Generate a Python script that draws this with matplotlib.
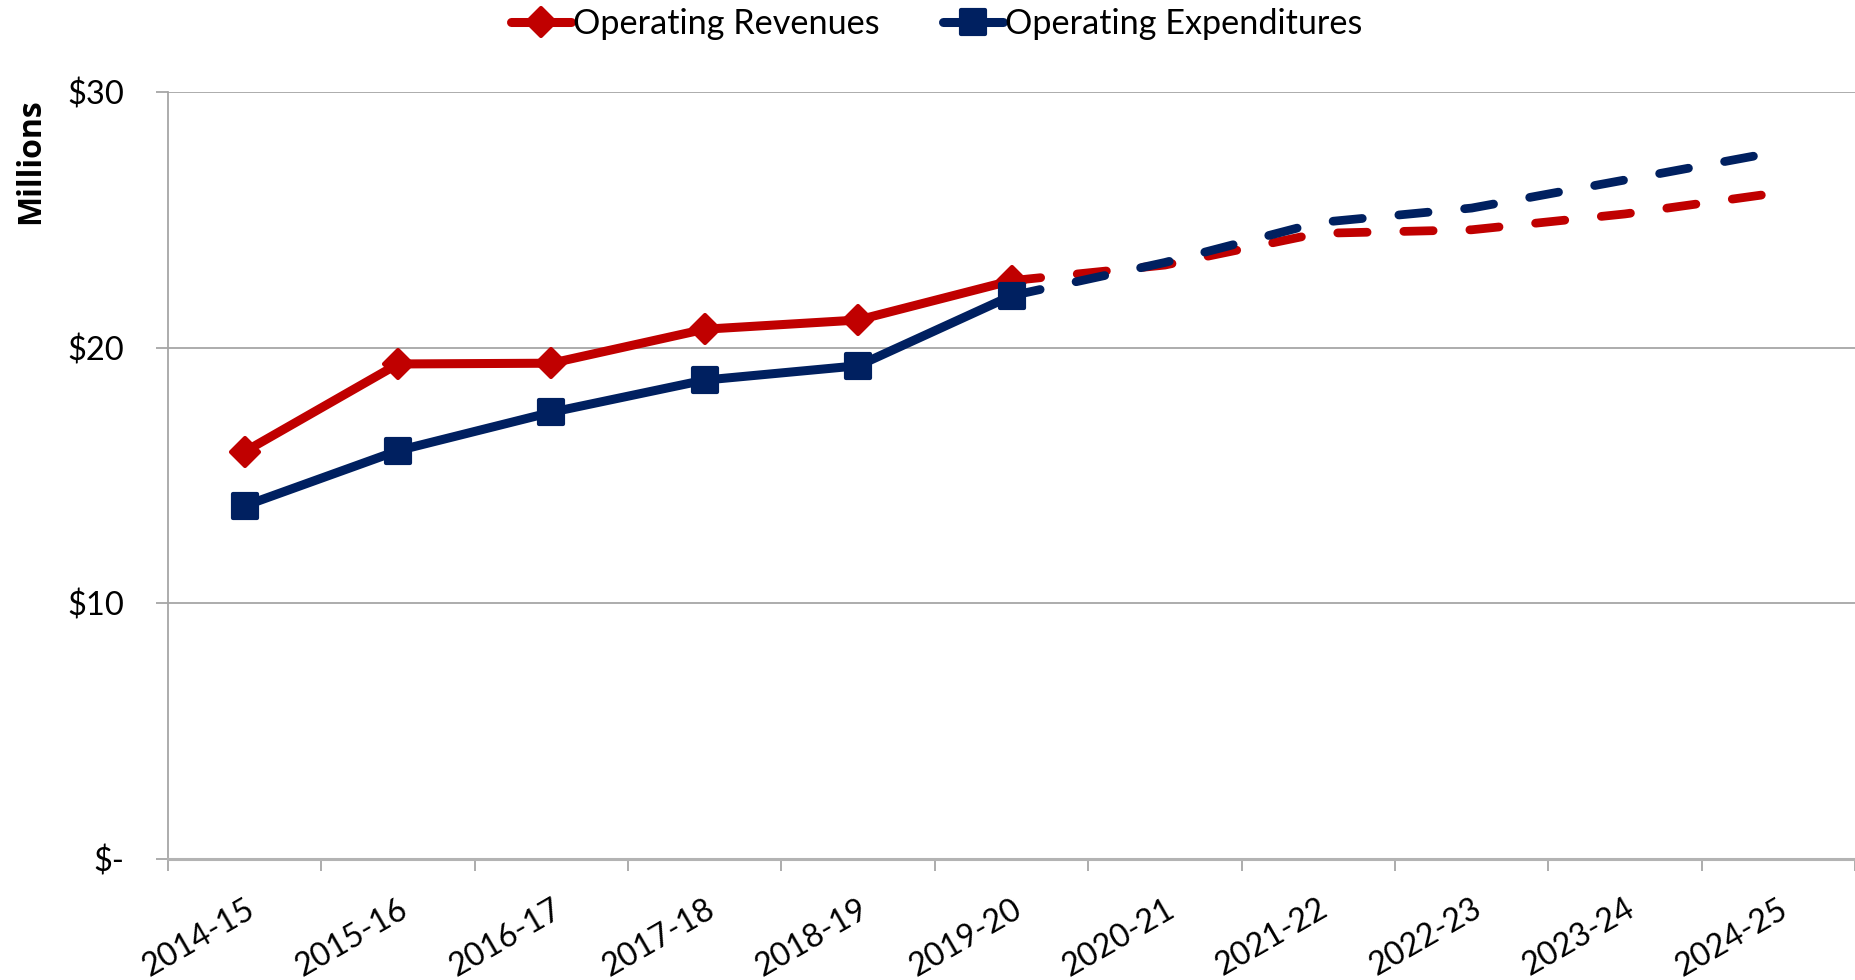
import matplotlib
matplotlib.use('Agg')
import matplotlib.pyplot as plt
from matplotlib.markers import MarkerStyle
import numpy as np

plt.rcParams['font.family'] = ['Lato', 'DejaVu Sans']

# data ($ millions)
years = ['2014-15', '2015-16', '2016-17', '2017-18', '2018-19', '2019-20',
         '2020-21', '2021-22', '2022-23', '2023-24', '2024-25']
revenues = [15.94, 19.37, 19.40, 20.73, 21.09, 22.63]
expenditures = [13.82, 15.98, 17.48, 18.74, 19.30, 22.04]
# projections start at 2019-20
revenues_proj = [22.63, 23.24, 24.48, 24.62, 25.24, 26.07]
expenditures_proj = [22.04, 23.34, 24.90, 25.47, 26.57, 27.68]
y_ticks = [0, 10, 20, 30]
y_labels = ['$-', '$10', '$20', '$30']

red = '#C00000'
navy = '#002060'
grey = '#a6a6a6'
W, H = 1855, 980

x = np.arange(len(years))
x_act = x[:len(revenues)]
x_proj = x[len(revenues) - 1:]

fig = plt.figure(figsize=(W / 100, H / 100), dpi=100)
ax = fig.add_axes([168 / W, 1 - 859 / H, 1 - 168 / W, (859 - 92.3) / H])

dash = (0, (3.35, 4.2))
ax.plot(x_proj, revenues_proj, color=red, lw=6.3, ls=dash,
        dash_capstyle='round', zorder=2)
l_rev, = ax.plot(x_act, revenues, color=red, lw=6.5,
                 marker=MarkerStyle('D', joinstyle='round'), ms=14.5, mew=3,
                 mec=red, mfc=red, solid_joinstyle='round',
                 solid_capstyle='round', zorder=3, label='Operating Revenues')
ax.plot(x_proj, expenditures_proj, color=navy, lw=6.3, ls=dash,
        dash_capstyle='round', zorder=4)
l_exp, = ax.plot(x_act, expenditures, color=navy, lw=6.5,
                 marker=MarkerStyle('s', joinstyle='round'), ms=16.6, mew=3,
                 mec=navy, mfc=navy, solid_joinstyle='round',
                 solid_capstyle='round', zorder=5, label='Operating Expenditures')

ax.set_xlim(-0.5, -0.5 + (W - 168) / 154.2)
ax.set_ylim(0, 30)
ax.set_yticks(y_ticks, y_labels)
ax.yaxis.grid(True, color=grey, lw=1.3)
ax.set_axisbelow(True)
for s in ['top', 'right']:
    ax.spines[s].set_visible(False)
ax.spines['left'].set_color(grey)
ax.spines['left'].set_linewidth(1.3)
ax.spines['bottom'].set_color('#b3b3b3')
ax.spines['bottom'].set_linewidth(2.2)
ax.tick_params(axis='y', length=8.6, width=1.3, color=grey, pad=23, labelsize=23.5)

# tick marks on category boundaries, labels at category centres
ax.set_xticks(np.arange(-0.5, len(years), 1.0))
ax.tick_params(axis='x', which='major', length=8.6, width=1.3, color=grey,
               labelbottom=False)
ax.set_xticks(x, years, minor=True)
ax.tick_params(axis='x', which='minor', length=0, pad=25, labelsize=23.2)
for lbl in ax.get_xticklabels(minor=True):
    lbl.set_rotation(30)
    lbl.set_ha('right')
    lbl.set_rotation_mode('anchor')

fig.text(30.8 / W, 1 - 161.5 / H, 'Millions', rotation=90, ha='center',
         va='center', fontsize=23, fontweight='bold',
         family=['Open Sans', 'DejaVu Sans'])

fig.legend([l_rev, l_exp], ['Operating Revenues', 'Operating Expenditures'],
           loc='center', bbox_to_anchor=(0.505, 1 - 24 / H), ncol=2,
           frameon=False, handlelength=1.75, handletextpad=0.05,
           columnspacing=1.85, fontsize=24.7, borderaxespad=0, borderpad=0)

fig.savefig('out.png', dpi=100)
